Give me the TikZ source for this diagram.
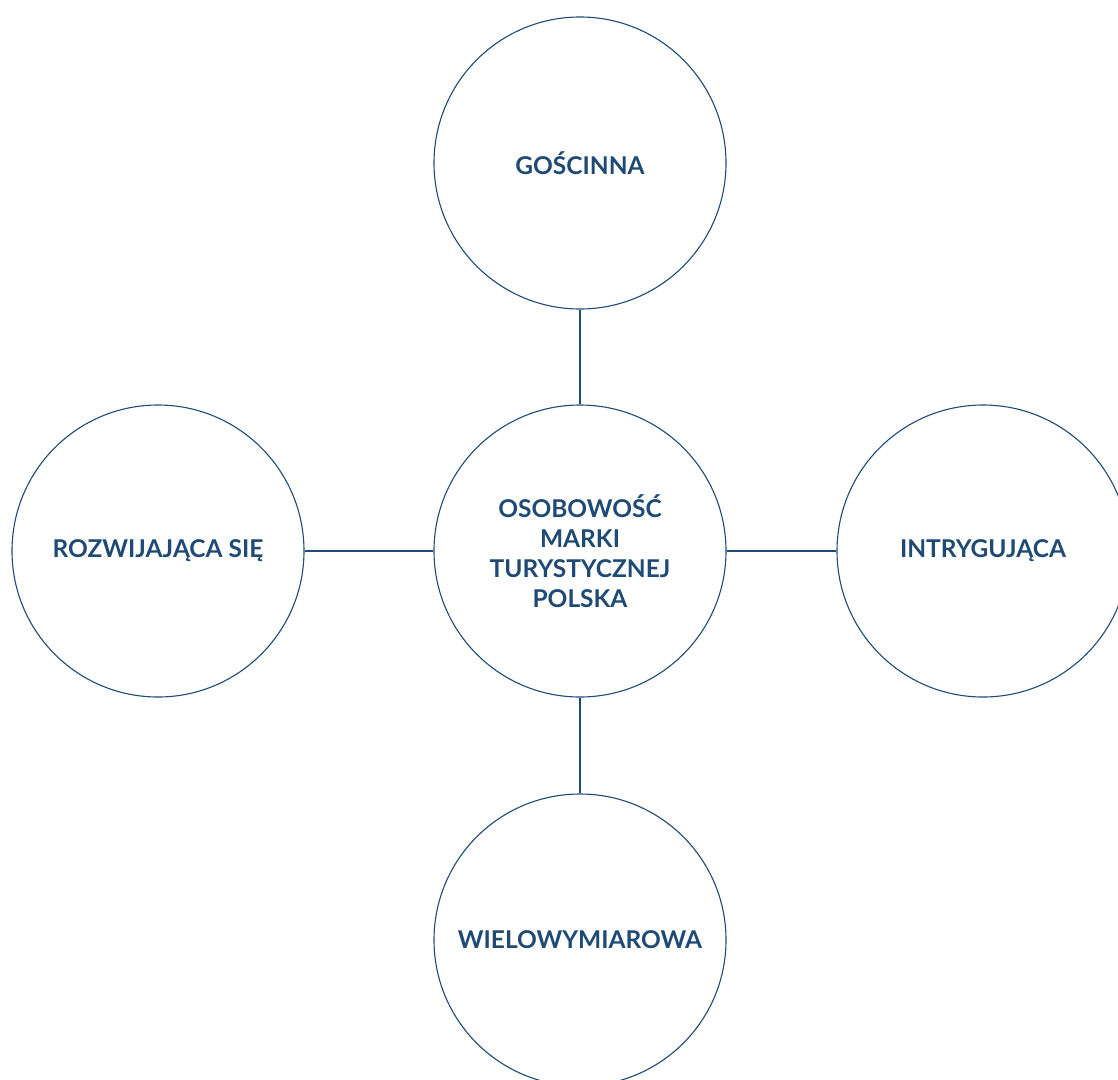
\documentclass[tikz,border=0pt]{standalone}
\usepackage{fontspec}
\setmainfont{Lato}
\usepackage{tikz}
\usetikzlibrary{positioning}
\definecolor{markablue}{HTML}{1F4A75}

\begin{document}
\begin{tikzpicture}[x=1pt, y=-1pt, font=\fontsize{24.5}{30}\selectfont\bfseries,
    trait/.style={circle, draw=markablue, line width=1.1pt, minimum size=292pt,
        inner sep=0pt, text=markablue, align=center},
    link/.style={draw=markablue, line width=1.1pt}]

    % Rahmen der Abbildung
    \useasboundingbox (0,0) rectangle (1118,1079);
    \clip (0,0) rectangle (1118,1079);

    % Mittelpunkt
    \node[trait] (center) at (580,551) {OSOBOWOŚĆ\\MARKI\\TURYSTYCZNEJ\\POLSKA};

    % Eigenschaften rundherum
    \node[trait] (top) at (580,163) {GOŚCINNA};
    \node[trait] (bottom) at (580,940) {WIELOWYMIAROWA};
    \node[trait] (left) at (158,551) {ROZWIJAJĄCA SIĘ};
    \node[trait] (right) at (983,551) {INTRYGUJĄCA};

    % Verbindungen
    \draw[link] (center) -- (top);
    \draw[link] (center) -- (bottom);
    \draw[link] (center) -- (left);
    \draw[link] (center) -- (right);

\end{tikzpicture}
\end{document}
